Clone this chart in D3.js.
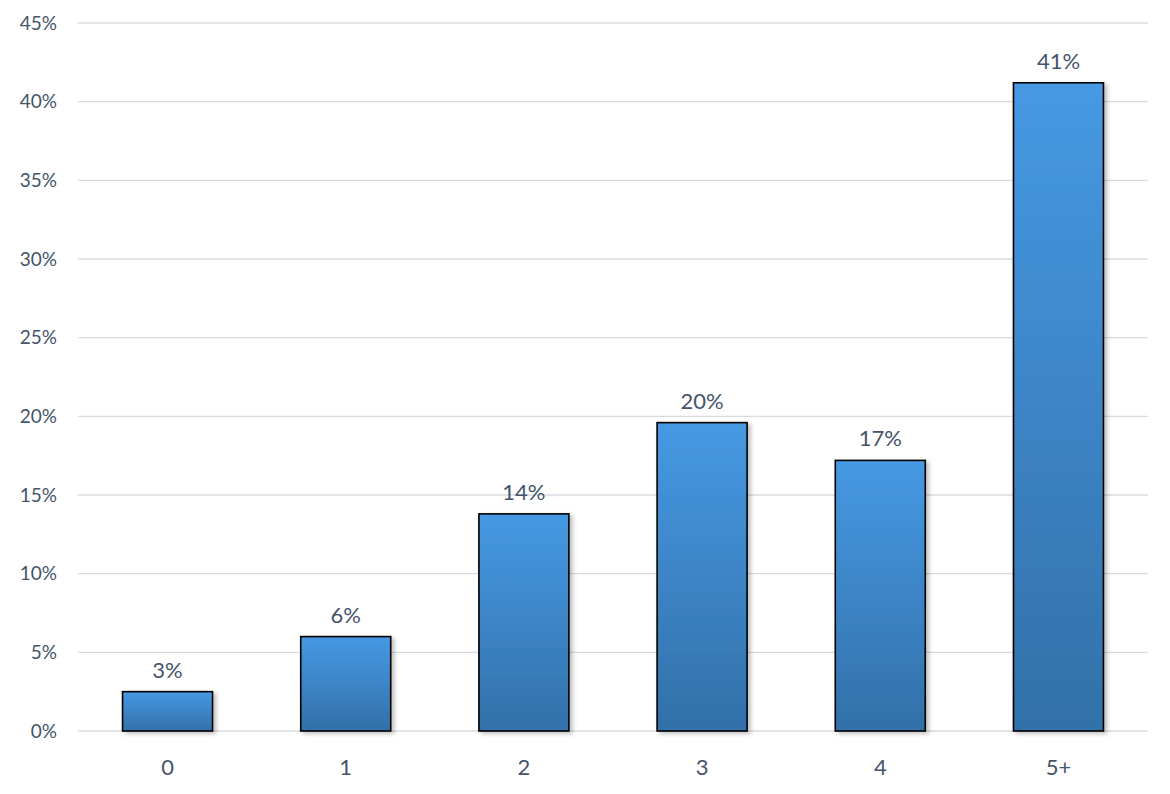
<!DOCTYPE html>
<html><head><meta charset="utf-8">
<script src="https://cdn.jsdelivr.net/npm/d3@7"></script>
<style>body{margin:0;background:#fff;font-family:"Lato","Open Sans",sans-serif;}</style>
</head><body><svg id="c" width="1170" height="794"></svg>
<script>
const categories = ["0","1","2","3","4","5+"];
const values = [2.5, 6.0, 13.8, 19.6, 17.2, 41.2];
const labels = ["3%","6%","14%","20%","17%","41%"];
const yTicks = [0,5,10,15,20,25,30,35,40,45];

const svg = d3.select("#c");
const m = {l:78, r:22, t:23, b:63};
const W = 1170, H = 794;
const x = d3.scaleBand().domain(categories).range([m.l, W-m.r]).paddingInner(0.495).paddingOuter(0.25);
const y = d3.scaleLinear().domain([0,45]).range([H-m.b, m.t]);
const txt = "#44546a";

const defs = svg.append("defs");
const g = defs.append("linearGradient").attr("id","bg").attr("x1",0).attr("y1",0).attr("x2",0).attr("y2",1);
g.append("stop").attr("offset","0%").attr("stop-color","#4699e3");
g.append("stop").attr("offset","100%").attr("stop-color","#3270a9");
const f = defs.append("filter").attr("id","sh").attr("x","-10%").attr("y","-10%").attr("width","130%").attr("height","130%");
f.append("feDropShadow").attr("dx",3).attr("dy",2).attr("stdDeviation",2).attr("flood-color","#000").attr("flood-opacity",0.25);

svg.append("g").selectAll("line").data(yTicks).join("line")
  .attr("x1", m.l).attr("x2", W-m.r).attr("y1", d=>y(d)).attr("y2", d=>y(d))
  .attr("stroke","#d9dbe0").attr("stroke-width",1.3);

svg.append("g").selectAll("text").data(yTicks).join("text")
  .attr("x", 57).attr("y", d=>y(d)).attr("dy","0.35em").attr("text-anchor","end")
  .attr("fill",txt).attr("font-size",19).text(d=>d+"%");

svg.append("g").selectAll("rect").data(values).join("rect")
  .attr("x",(d,i)=>x(categories[i])).attr("width",x.bandwidth())
  .attr("y",d=>y(d)).attr("height",d=>y(0)-y(d))
  .attr("fill","url(#bg)").attr("stroke","#000").attr("stroke-width",1.6).attr("filter","url(#sh)");

svg.append("g").selectAll("text").data(values).join("text")
  .attr("x",(d,i)=>x(categories[i])+x.bandwidth()/2).attr("y",d=>y(d)-14)
  .attr("text-anchor","middle").attr("fill",txt).attr("font-size",22).text((d,i)=>labels[i]);

svg.append("g").selectAll("text").data(categories).join("text")
  .attr("x",d=>x(d)+x.bandwidth()/2).attr("y",H-m.b+44)
  .attr("text-anchor","middle").attr("fill",txt).attr("font-size",22).text(d=>d);
</script></body></html>
